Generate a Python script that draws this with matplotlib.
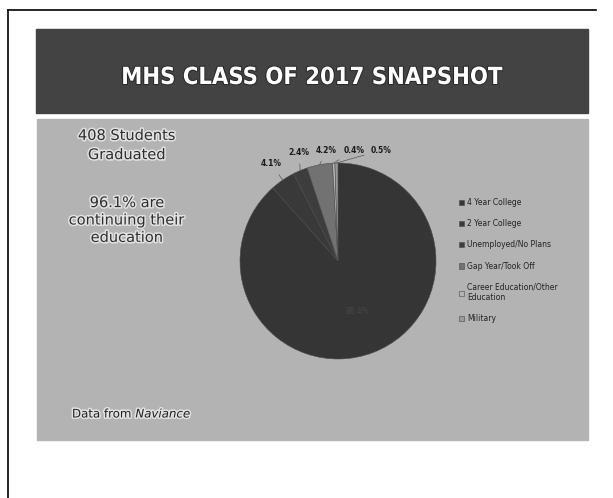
import matplotlib.pyplot as plt
import matplotlib.patheffects as pe
import numpy as np
from matplotlib.patches import Rectangle

# Data ------------------------------------------------------------------------

categories = ["4 Year College", "2 Year College", "Unemployed/No Plans",
              "Gap Year/Took Off", "Career Education/Other\nEducation", "Military"]
shares = [88.4, 4.1, 2.4, 4.2, 0.4, 0.5]
slice_colors = ["#353535", "#393939", "#3d3d3d", "#727272", "#b5b5b5", "#9a9a9a"]

title = "MHS CLASS OF 2017 SNAPSHOT"
side_top = "408 Students\nGraduated"
side_mid = "96.1% are\ncontinuing their\neducation"

# Figure / slide background ---------------------------------------------------

W, H = 613, 498
fig = plt.figure(figsize=(W / 100, H / 100), dpi=100)
fig.patch.set_facecolor("white")

bg = fig.add_axes([0, 0, 1, 1])
bg.set_xlim(0, W)
bg.set_ylim(H, 0)
bg.axis("off")

# scanned page border
bg.plot([8, 596], [10, 10], color="black", lw=1.2)
bg.plot([8, 8], [10, H], color="black", lw=1.2)

# title bar and slide body
bg.add_patch(Rectangle((36, 29), 552, 84, color="#434343"))
bg.add_patch(Rectangle((37, 119), 551, 321, color="#b3b3b3"))

bg.text(312, 77, title, color="white", fontsize=17, ha="center", va="center",
        fontweight="bold", fontstretch="condensed",
        path_effects=[pe.withStroke(linewidth=1.5, foreground="#2a2a2a")])

halo = [pe.withStroke(linewidth=2.2, foreground="#e2e2e2")]
bg.text(127, 145, side_top, color="#2e2e2e", fontsize=10.5, ha="center",
        va="center", linespacing=1.35, path_effects=halo)
bg.text(127, 220, side_mid, color="#2e2e2e", fontsize=10.5, ha="center",
        va="center", linespacing=1.2, path_effects=halo)

src = bg.text(72, 414, "Data from ", color="#1e1e1e", fontsize=8.5,
              ha="left", va="center", path_effects=halo)
bg.annotate("Naviance", xy=(1, 0.5), xycoords=src, va="center", ha="left",
            color="#1e1e1e", fontsize=8.5, style="italic", path_effects=halo)

# Pie -------------------------------------------------------------------------

cx, cy, r = 338, 261, 98
ax = fig.add_axes([(cx - r) / W, (H - cy - r) / H, 2 * r / W, 2 * r / H])
wedges, _ = ax.pie(shares, colors=slice_colors, startangle=90, counterclock=False,
                   wedgeprops=dict(edgecolor="#4a4a4a", linewidth=0.4))
ax.set_xlim(-1, 1)
ax.set_ylim(-1, 1)
ax.set_aspect("equal")

# data labels: big slice inside, small slices outside with leader lines
prev_x = -10
for i, (w, v) in enumerate(zip(wedges, shares)):
    mid = np.deg2rad((w.theta1 + w.theta2) / 2)
    px, py = np.cos(mid), np.sin(mid)
    label = f"{v:.1f}%"
    if i == 0:
        ax.text(px * 0.55, py * 0.55, label, color="#484848", fontsize=5.5,
                ha="center", va="center")
        continue
    tx = max(px * 1.2, prev_x + 0.28)
    ty = min(py * 1.2, 1.13)
    prev_x = tx
    ax.annotate(label, xy=(px, py), xytext=(tx, ty), fontsize=5.5,
                fontweight="bold", color="#1a1a1a", ha="center", va="center",
                annotation_clip=False,
                arrowprops=dict(arrowstyle="-", color="#555555", lw=0.5,
                                shrinkA=3, shrinkB=0))

fig.legend(wedges, categories, loc="upper left",
           bbox_to_anchor=(452 / W, 1 - 191 / H), frameon=False,
           fontsize=5.5, labelcolor="#222222", handlelength=0.7,
           handleheight=0.7, handletextpad=0.4, labelspacing=1.6)

plt.savefig("out.png", dpi=100, facecolor=fig.get_facecolor())
